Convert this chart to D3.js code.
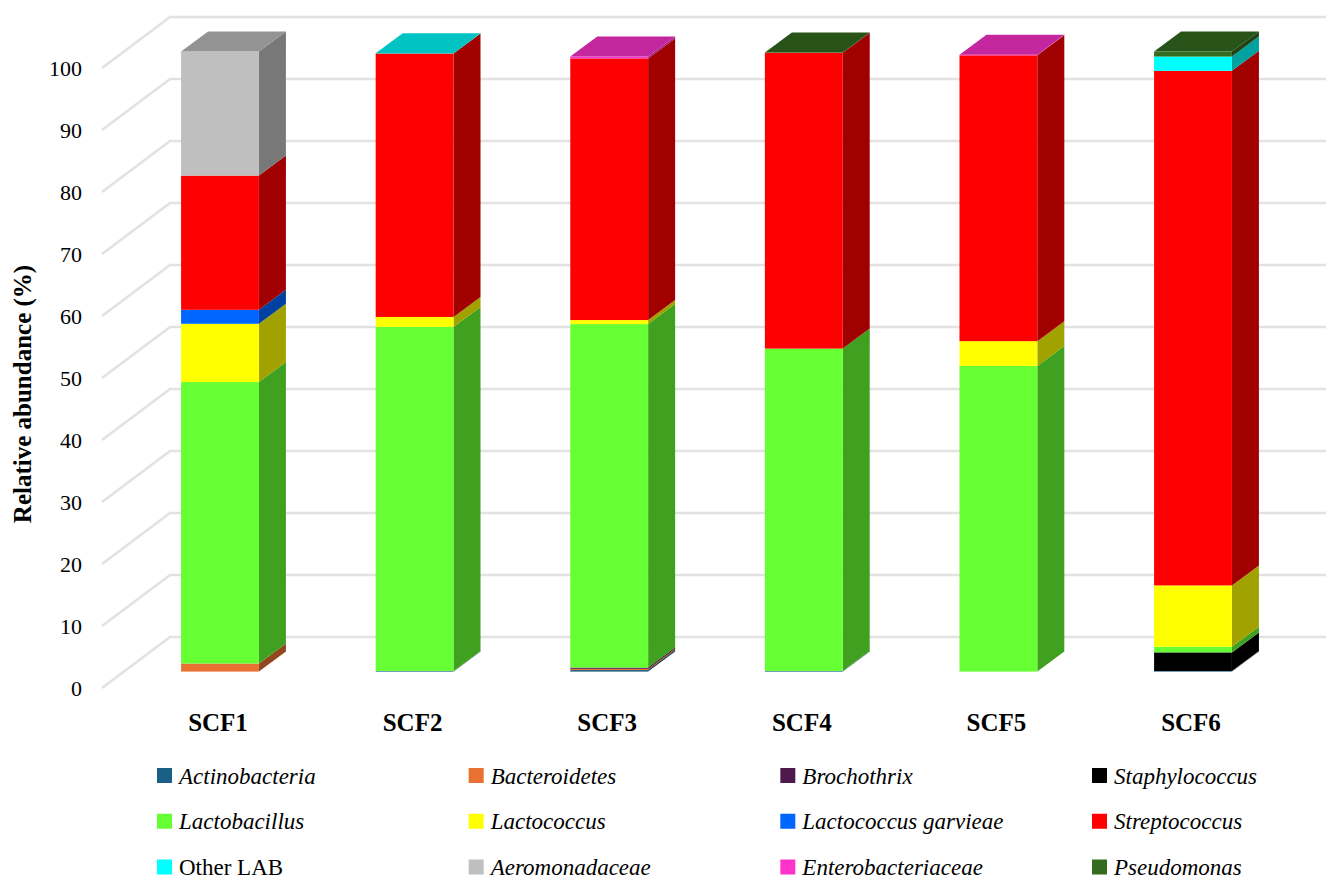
<!DOCTYPE html>
<html><head><meta charset="utf-8">
<script src="https://cdn.jsdelivr.net/npm/d3@7/dist/d3.min.js"></script>
<style>html,body{margin:0;background:#fff}svg{display:block}text{font-family:"Liberation Serif",serif;fill:#000}</style>
</head><body><svg id="c" width="1326" height="876"></svg>
<script>
const categories=["SCF1","SCF2","SCF3","SCF4","SCF5","SCF6"];
const yTicks=[0,10,20,30,40,50,60,70,80,90,100];
const seriesNames=["Actinobacteria","Bacteroidetes","Brochothrix","Staphylococcus","Lactobacillus","Lactococcus","Lactococcus garvieae","Streptococcus","Other LAB","Aeromonadaceae","Enterobacteriaceae","Pseudomonas"];
const seriesColors=["#1a5f85","#e97132","#4e1a4e","#000000","#66ff33","#ffff00","#0066ff","#ff0000","#00ffff","#bfbfbf","#ff33cc","#336b1f"];
const actinobacteria=[0,0.1,0.25,0.1,0,0.1];
const bacteroidetes=[1.3,0,0.2,0,0,0];
const brochothrix=[0,0,0.2,0,0,0];
const staphylococcus=[0,0,0,0,0,3.0];
const lactobacillus=[45.4,55.5,55.4,52,49.3,0.9];
const lactococcus=[9.4,1.6,0.65,0,4,9.9];
const lactococcusGarvieae=[2.25,0,0,0,0,0];
const streptococcus=[21.65,42.5,42.2,47.7,46.1,83];
const otherLAB=[0,0.05,0,0,0,2.3];
const aeromonadaceae=[20,0,0,0,0,0];
const enterobacteriaceae=[0,0,0.3,0,0.1,0];
const pseudomonas=[0,0,0,0.05,0,0.8];
const seriesValues=[actinobacteria,bacteroidetes,brochothrix,staphylococcus,lactobacillus,lactococcus,lactococcusGarvieae,streptococcus,otherLAB,aeromonadaceae,enterobacteriaceae,pseudomonas];

const svg=d3.select("#c");
const y=d3.scaleLinear().domain([0,100]).range([688,68]);
const x=d3.scaleBand().domain(categories).range([122.7,1290.3]).paddingInner(0.6).paddingOuter(0.3);
const axisX0=102, backX=170, backDy=51, frontDy=16.4, depthX=27, depthY=20;
const line=d3.line();
// gridlines on the wall and side
svg.append("g").selectAll("path").data(yTicks).join("path")
 .attr("d",v=>line([[axisX0,y(v)],[backX,y(v)-backDy],[1326,y(v)-backDy]]))
 .attr("fill","none").attr("stroke","#e2e2e2").attr("stroke-width",2.6);
// y axis labels
const ya=svg.append("g").attr("transform","translate(82,0)")
 .call(d3.axisLeft(y).tickValues(yTicks).tickSize(0).tickPadding(0));
ya.select(".domain").remove();
ya.selectAll("text").style("font-family",'"Liberation Serif",serif').style("font-size","22px").attr("fill","#000").attr("dy","0.33em");
// bars
const shade=(c,k)=>{const r=d3.rgb(c);return d3.rgb(r.r*k,r.g*k,r.b*k).formatHex();};
const bars=svg.append("g");
categories.forEach((cat,i)=>{
  const x0=x(cat), x1=x0+x.bandwidth();
  let sum=0;
  const segs=[];
  seriesValues.forEach((vals,s)=>{ if(vals[i]>0){segs.push({s,a:sum,b:sum+vals[i]});sum+=vals[i];} });
  segs.forEach((g,k)=>{
    const c=seriesColors[g.s];
    const ya_=y(g.a)-frontDy, yb=y(g.b)-frontDy;
    bars.append("path").attr("d",line([[x1,ya_],[x1+depthX,ya_-depthY],[x1+depthX,yb-depthY],[x1,yb]])+"Z").attr("fill",shade(c,0.63));
    bars.append("rect").attr("x",x0).attr("y",yb).attr("width",x.bandwidth()).attr("height",ya_-yb).attr("fill",c);
    if(k===segs.length-1)
      bars.append("path").attr("d",line([[x0,yb],[x0+depthX,yb-depthY],[x1+depthX,yb-depthY],[x1,yb]])+"Z").attr("fill",shade(c,0.77));
  });
});
// category labels
svg.append("g").selectAll("text").data(categories).join("text")
 .attr("x",d=>x(d)+x.bandwidth()/2-2).attr("y",731).attr("text-anchor","middle")
 .attr("font-weight","bold").attr("font-size",25).text(d=>d);
// y title
svg.append("text").attr("transform","translate(31,394) rotate(-90)").attr("text-anchor","middle")
 .attr("font-weight","bold").attr("font-size",25).text("Relative abundance (%)");
// legend
const legX=d3.scalePoint().domain([0,1,2,3]).range([157,1092]);
const legY=d3.scalePoint().domain([0,1,2]).range([775.5,867]);
const leg=svg.append("g").selectAll("g").data(seriesNames).join("g")
 .attr("transform",(d,i)=>`translate(${legX(i%4)},${legY(Math.floor(i/4))})`);
leg.append("rect").attr("y",-7.5).attr("width",15).attr("height",15).attr("fill",(d,i)=>seriesColors[i]);
leg.append("text").attr("x",22).attr("y",8).attr("font-size",23)
 .attr("font-style",d=>d==="Other LAB"?"normal":"italic").text(d=>d);
</script></body></html>
